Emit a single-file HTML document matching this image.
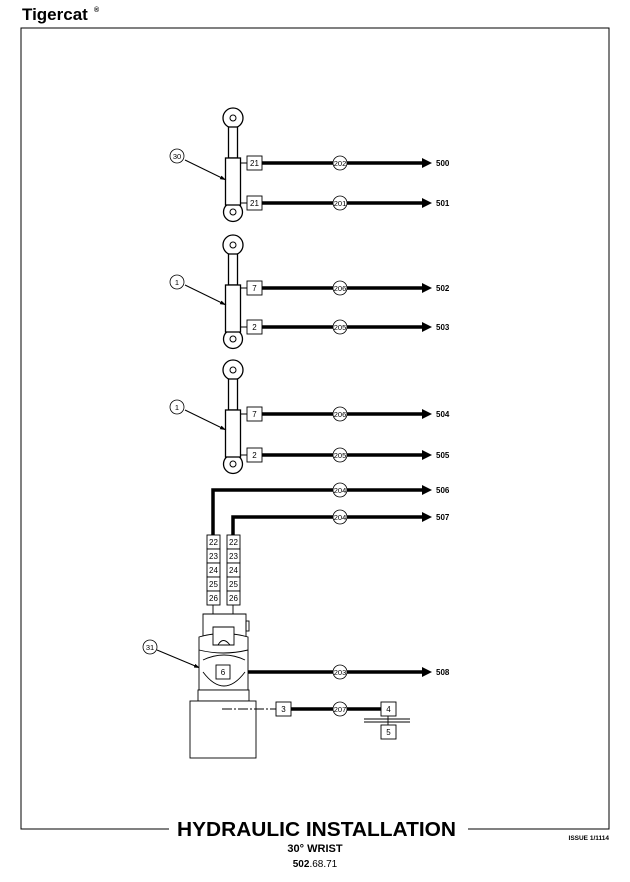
<!DOCTYPE html>
<html><head><style>
body{margin:0;background:#fff;width:630px;height:882px;overflow:hidden}
svg{display:block}
text{font-family:"Liberation Sans",sans-serif}
</style></head><body>
<svg width="630" height="882" viewBox="0 0 630 882" xmlns="http://www.w3.org/2000/svg">
<defs>
<g id="cyl">
 <circle cx="0" cy="0" r="10" fill="#fff" stroke="#000" stroke-width="1.3"/>
 <circle cx="0" cy="0" r="3" fill="#fff" stroke="#000" stroke-width="1"/>
 <circle cx="0" cy="94" r="9.5" fill="#fff" stroke="#000" stroke-width="1.3"/>
 <circle cx="0" cy="94" r="3" fill="#fff" stroke="#000" stroke-width="1"/>
 <rect x="-4.5" y="9" width="9" height="31" fill="#fff" stroke="#000" stroke-width="1.3"/>
 <rect x="-7.5" y="40" width="15" height="47" fill="#fff" stroke="#000" stroke-width="1.3"/>
</g>
<marker id="ah" markerWidth="6" markerHeight="6" refX="6" refY="3" orient="auto" markerUnits="userSpaceOnUse">
 <polygon points="0,1 6,3 0,5" fill="#000"/>
</marker>
</defs>
<text x="22" y="20" font-size="17" font-weight="bold">Tigercat</text>
<text x="94" y="12" font-size="7" font-weight="bold">®</text>
<polyline points="169,829 21,829 21,28 609,28 609,829 468,829" fill="none" stroke="#000" stroke-width="1"/>
<use href="#cyl" x="233" y="118"/>
<use href="#cyl" x="233" y="245"/>
<use href="#cyl" x="233" y="370"/>
<g stroke="#000" stroke-width="1">
 <line x1="185" y1="160" x2="226" y2="180" marker-end="url(#ah)"/>
 <line x1="185" y1="285" x2="226" y2="305" marker-end="url(#ah)"/>
 <line x1="185" y1="410" x2="226" y2="430" marker-end="url(#ah)"/>
 <line x1="157" y1="650" x2="200" y2="668" marker-end="url(#ah)"/>
 <line x1="241" y1="163" x2="247" y2="163"/>
 <line x1="241" y1="203" x2="247" y2="203"/>
 <line x1="241" y1="288" x2="247" y2="288"/>
 <line x1="241" y1="327" x2="247" y2="327"/>
 <line x1="241" y1="414" x2="247" y2="414"/>
 <line x1="241" y1="455" x2="247" y2="455"/>
</g>
<g stroke="#000" stroke-width="3.5" fill="none">
 <line x1="262" y1="163" x2="424" y2="163"/>
 <line x1="262" y1="203" x2="424" y2="203"/>
 <line x1="262" y1="288" x2="424" y2="288"/>
 <line x1="262" y1="327" x2="424" y2="327"/>
 <line x1="262" y1="414" x2="424" y2="414"/>
 <line x1="262" y1="455" x2="424" y2="455"/>
 <polyline points="213,537 213,490 424,490"/>
 <polyline points="233,537 233,517 424,517"/>
 <line x1="230" y1="672" x2="424" y2="672"/>
 <line x1="291" y1="709" x2="381" y2="709"/>
</g>
<g fill="#000">
 <polygon points="422,158 432,163 422,168"/>
 <polygon points="422,198 432,203 422,208"/>
 <polygon points="422,283 432,288 422,293"/>
 <polygon points="422,322 432,327 422,332"/>
 <polygon points="422,409 432,414 422,419"/>
 <polygon points="422,450 432,455 422,460"/>
 <polygon points="422,485 432,490 422,495"/>
 <polygon points="422,512 432,517 422,522"/>
 <polygon points="422,667 432,672 422,677"/>
</g>
<g font-size="8" font-weight="bold">
 <text x="436" y="166">500</text><text x="436" y="206">501</text>
 <text x="436" y="291">502</text><text x="436" y="330">503</text>
 <text x="436" y="417">504</text><text x="436" y="458">505</text>
 <text x="436" y="493">506</text><text x="436" y="520">507</text>
 <text x="436" y="675">508</text>
</g>
<g fill="#fff" stroke="#000" stroke-width="0.8">
 <circle cx="340" cy="163" r="7"/><circle cx="340" cy="203" r="7"/>
 <circle cx="340" cy="288" r="7"/><circle cx="340" cy="327" r="7"/>
 <circle cx="340" cy="414" r="7"/><circle cx="340" cy="455" r="7"/>
 <circle cx="340" cy="490" r="7"/><circle cx="340" cy="517" r="7"/>
 <circle cx="340" cy="672" r="7"/><circle cx="340" cy="709" r="7"/>
 <circle cx="177" cy="156" r="7"/><circle cx="177" cy="282" r="7"/>
 <circle cx="177" cy="407" r="7"/><circle cx="150" cy="647" r="7"/>
</g>
<g font-size="7.5" text-anchor="middle">
 <text x="340" y="166">202</text><text x="340" y="206">201</text>
 <text x="340" y="291">206</text><text x="340" y="330">205</text>
 <text x="340" y="417">206</text><text x="340" y="458">205</text>
 <text x="340" y="493">204</text><text x="340" y="520">204</text>
 <text x="340" y="675">203</text><text x="340" y="712">207</text>
 <text x="177" y="159">30</text><text x="177" y="285">1</text>
 <text x="177" y="410">1</text><text x="150" y="650">31</text>
</g>
<g fill="#fff" stroke="#000" stroke-width="0.9">
 <rect x="247" y="156" width="15" height="14"/><rect x="247" y="196" width="15" height="14"/>
 <rect x="247" y="281" width="15" height="14"/><rect x="247" y="320" width="15" height="14"/>
 <rect x="247" y="407" width="15" height="14"/><rect x="247" y="448" width="15" height="14"/>
 <rect x="207" y="535" width="13" height="14"/><rect x="207" y="549" width="13" height="14"/>
 <rect x="207" y="563" width="13" height="14"/><rect x="207" y="577" width="13" height="14"/>
 <rect x="207" y="591" width="13" height="14"/>
 <rect x="227" y="535" width="13" height="14"/><rect x="227" y="549" width="13" height="14"/>
 <rect x="227" y="563" width="13" height="14"/><rect x="227" y="577" width="13" height="14"/>
 <rect x="227" y="591" width="13" height="14"/>
</g>
<g font-size="8" text-anchor="middle">
 <text x="254.5" y="166">21</text><text x="254.5" y="206">21</text>
 <text x="254.5" y="291">7</text><text x="254.5" y="330">2</text>
 <text x="254.5" y="417">7</text><text x="254.5" y="458">2</text>
 <text x="213.5" y="545">22</text><text x="213.5" y="559">23</text><text x="213.5" y="573">24</text><text x="213.5" y="587">25</text><text x="213.5" y="601">26</text>
 <text x="233.5" y="545">22</text><text x="233.5" y="559">23</text><text x="233.5" y="573">24</text><text x="233.5" y="587">25</text><text x="233.5" y="601">26</text>
</g>
<g fill="none" stroke="#000" stroke-width="0.9">
 <line x1="213" y1="605" x2="213" y2="614"/><line x1="233" y1="605" x2="233" y2="614"/>
 <path d="M203,614 L246,614 L246,646 L203,646 Z" fill="#fff"/>
 <path d="M199,637 Q223,630 248,637 L248,690 L199,690 Z" fill="#fff"/>
 <path d="M199,650 Q223,656 248,650"/>
 <path d="M203,660 Q224,650 245,660"/>
 <path d="M203,672 Q224,700 245,672"/>
 <path d="M213,627 L234,627 L234,645 L213,645 Z" fill="#fff"/>
 <path d="M218,645 Q223,636 230,645"/>
 <rect x="246" y="621" width="3" height="10"/>
 <rect x="198" y="690" width="51" height="11" fill="#fff"/>
 <rect x="190" y="701" width="66" height="57" fill="#fff"/>
 <line x1="222" y1="709" x2="276" y2="709" stroke-dasharray="10,2,2,2"/>
 <line x1="364" y1="719" x2="410" y2="719"/>
 <line x1="364" y1="722" x2="410" y2="722"/>
 <line x1="388" y1="716" x2="388" y2="725"/>
</g>
<g fill="#fff" stroke="#000" stroke-width="0.9">
 <rect x="216" y="665" width="14" height="14"/>
 <rect x="276" y="702" width="15" height="14"/>
 <rect x="381" y="702" width="15" height="14"/>
 <rect x="381" y="725" width="15" height="14"/>
</g>
<g font-size="8" text-anchor="middle">
 <text x="223" y="675">6</text><text x="283.5" y="712">3</text>
 <text x="388.5" y="712">4</text><text x="388.5" y="735">5</text>
</g>
<text x="177" y="836" font-size="20" font-weight="bold" textLength="279" lengthAdjust="spacingAndGlyphs">HYDRAULIC INSTALLATION</text>
<text x="315" y="852" font-size="11" font-weight="bold" text-anchor="middle">30° WRIST</text>
<text x="315" y="867" font-size="10" text-anchor="middle"><tspan font-weight="bold">502</tspan>.68.71</text>
<text x="609" y="840" font-size="6.5" font-weight="bold" text-anchor="end">ISSUE 1/1114</text>
</svg>
</body></html>
